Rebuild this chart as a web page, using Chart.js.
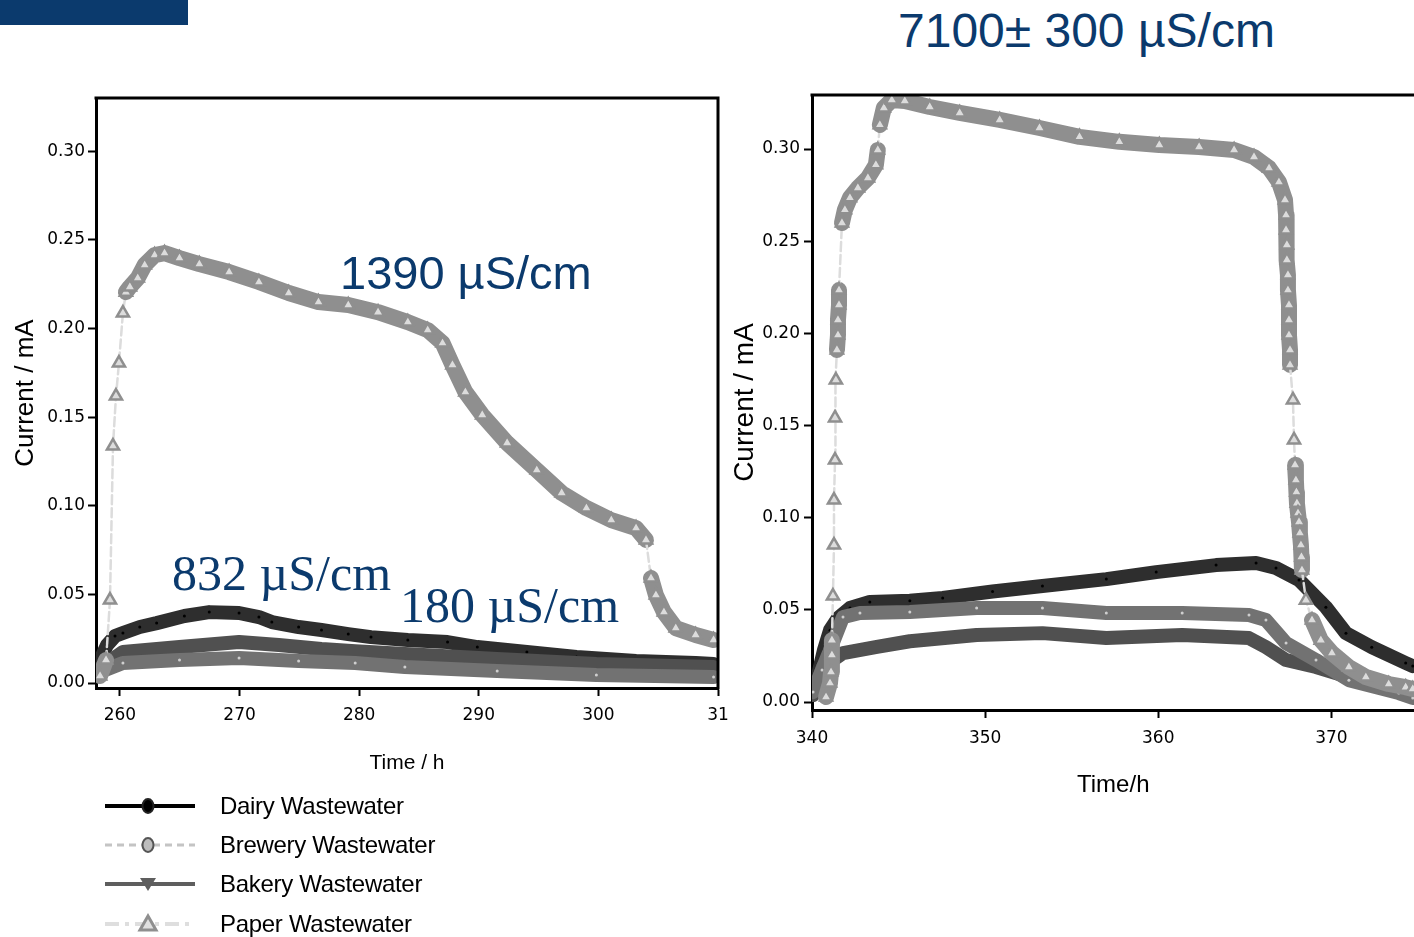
<!DOCTYPE html>
<html lang="en">
<head>
  <meta charset="UTF-8">
  <title>Current vs time — wastewater MFC</title>
  <script src="https://cdn.jsdelivr.net/npm/chart.js"></script>
  <style>
    body {
      margin: 0;
      background: #fff;
      width: 1414px;
      height: 937px;
      overflow: hidden;
      position: relative;
      font-family: 'Liberation Sans', Arial, sans-serif;
    }
    .bar { position: absolute; left: 0; top: 0; width: 188px; height: 25px; background: #0b3a6d; }
    .note { position: absolute; color: #0b3a6d; white-space: nowrap; line-height: 1; }
    .sans { font-family: 'Liberation Sans', Arial, sans-serif; font-size: 47px; }
    .serif { font-family: 'Liberation Serif', 'Times New Roman', serif; font-size: 50px; }
    #left-wrap { position: absolute; left: 0; top: 80px; width: 740px; height: 720px; }
    /* 10px wider than the window: Chart.js keeps ~10px free for the line width */
    #right-wrap { position: absolute; left: 720px; top: 80px; width: 704px; height: 740px; }
    .legend { position: absolute; left: 105px; top: 786px; }
    .legend .row { display: flex; align-items: center; height: 39.3px; }
    .legend svg { width: 92px; height: 22px; margin-right: 23px; }
    .legend span { font-size: 24px; color: #000; letter-spacing: -0.3px; }
  </style>
</head>
<body>
  <div class="bar"></div>
  <div class="note sans" style="left:898px; top:7px; font-size:48px;">7100± 300 µS/cm</div>

  <div id="left-wrap"><canvas id="chart-left"></canvas></div>
  <div id="right-wrap"><canvas id="chart-right"></canvas></div>

  <div class="note sans" style="left:340px; top:249px;">1390 µS/cm</div>
  <div class="note serif" style="left:172px; top:548px;">832 µS/cm</div>
  <div class="note serif" style="left:400px; top:580px;">180 µS/cm</div>

  <div class="legend" id="legend"></div>

  <script>
    // series names (legend order)
    const seriesNames = ['Dairy Wastewater', 'Brewery Wastewater', 'Bakery Wastewater', 'Paper Wastewater'];

    // axis ticks
    const yTicks = [0, 0.05, 0.10, 0.15, 0.20, 0.25, 0.30];
    const leftXTicks = [260, 270, 280, 290, 300, 310];
    const leftXLabels = ['260', '270', '280', '290', '300', '31'];
    const rightXTicks = [340, 350, 360, 370];
    const rightXLabels = ['340', '350', '360', '370'];

    // left panel: [time / h, current / mA]
    const leftDairy = [[258.34,0.013],[258.92,0.0214],[259.59,0.0265],[260.25,0.0282],[261.66,0.0316],[263.07,0.0338],
      [265.39,0.0378],[267.47,0.04],[269.96,0.0395],[271.62,0.0372],[272.70,0.0344],[274.94,0.0316],[276.85,0.0299],
      [279.09,0.0276],[280.99,0.0259],[284.07,0.0243],[287.39,0.0231],[289.88,0.0203],[294.02,0.0175],[298.17,0.0147],
      [303.15,0.0124],[308.13,0.0113],[309.63,0.0107]];
    const leftBrewery = [[258.34,0.0062],[260.25,0.0113],[264.98,0.013],[269.96,0.0141],[274.94,0.0124],[279.67,0.0113],
      [283.82,0.009],[291.54,0.0068],[299.83,0.0045],[309.63,0.0034]];
    const leftBakery = [[258.34,0.0085],[260.25,0.0175],[264.98,0.0203],[269.96,0.0231],[273.28,0.0214],[276.85,0.0192],
      [279.67,0.018],[283.82,0.0164],[291.54,0.0135],[299.83,0.0107],[309.63,0.009]];
    const leftPaper = [[258.34,0.004],[258.84,0.013],[259.17,0.0468],[259.42,0.1337],[259.67,0.1619],[259.92,0.1805],
      [260.25,0.2087],[260.50,0.2205],[260.83,0.2234],[261.49,0.2284],[262.07,0.2358],[262.90,0.2414],[263.73,0.2425],
      [264.98,0.2397],[266.64,0.2363],[269.13,0.2318],[271.62,0.2262],[274.11,0.22],[276.60,0.2149],[279.09,0.2132],
      [281.58,0.2092],[284.07,0.2036],[285.73,0.1991],[286.97,0.1918],[287.80,0.1794],[288.88,0.1641],[290.29,0.1512],
      [292.37,0.1354],[294.85,0.1201],[296.93,0.1072],[299.00,0.0987],[301.08,0.0919],[303.15,0.0874],[303.98,0.0807],
      [304.40,0.0592],[304.81,0.0496],[305.48,0.04],[306.47,0.031],[308.13,0.0271],[309.63,0.0243]];

    // right panel (7100 µS/cm)
    const rightDairy = [[340.06,0.0076],[340.35,0.0147],[340.69,0.0282],[341.04,0.039],[341.50,0.0456],[342.19,0.051],
      [343.34,0.0543],[345.65,0.055],[347.55,0.0565],[350.43,0.060],[353.31,0.063],[357.00,0.0667],[359.88,0.0705],
      [363.34,0.0743],[365.65,0.0754],[366.80,0.0727],[368.13,0.0662],[369.68,0.0515],[370.84,0.0374],[372.33,0.0298],
      [374.29,0.0212],[374.70,0.0195]];
    const rightBrewery = [[340.06,0.0054],[340.58,0.0174],[341.04,0.0282],[341.79,0.0461],[342.77,0.0483],[345.65,0.0488],
      [349.51,0.051],[353.31,0.051],[357.00,0.0483],[361.38,0.0483],[365.24,0.0472],[366.22,0.0445],[367.38,0.032],
      [369.11,0.0228],[371.01,0.0119],[373.89,0.0049],[374.70,0.0022]];
    const rightBakery = [[340.06,0.0038],[340.63,0.019],[341.79,0.0266],[343.75,0.030],[345.65,0.033],[349.51,0.0364],
      [353.31,0.0374],[357.00,0.0347],[361.38,0.0364],[365.24,0.0347],[366.22,0.0298],[367.38,0.0228],[369.11,0.019],
      [371.01,0.0136],[374.70,0.0065]];
    const rightPaper = [[340.81,0.0027],[341.04,0.0103],[341.10,0.0163],[341.15,0.0255],[341.15,0.0336],[341.21,0.0575],
      [341.27,0.0852],[341.27,0.1096],[341.33,0.1313],[341.33,0.1541],[341.38,0.1747],[341.44,0.191],[341.50,0.1991],
      [341.50,0.2073],[341.56,0.2154],[341.56,0.2235],[341.73,0.2599],[341.90,0.267],[342.19,0.2735],[342.65,0.2789],
      [343.23,0.2843],[343.69,0.2914],[343.80,0.2995],[343.92,0.3131],[344.15,0.3223],[344.61,0.3266],[345.36,0.3261],
      [346.80,0.3228],[348.53,0.3196],[350.84,0.3158],[353.14,0.3114],[355.45,0.3066],[357.75,0.3039],[360.06,0.3022],
      [362.36,0.3011],[364.38,0.2995],[365.53,0.2957],[366.40,0.2897],[366.97,0.2821],[367.32,0.2724],[367.38,0.2642],
      [367.38,0.2561],[367.43,0.248],[367.43,0.2398],[367.49,0.2317],[367.49,0.2235],[367.55,0.2154],[367.55,0.2073],
      [367.55,0.1991],[367.61,0.191],[367.61,0.1829],[367.78,0.1639],[367.84,0.1422],[367.90,0.1286],[367.95,0.1204],
      [367.98,0.1139],[368.01,0.1079],[368.07,0.1025],[368.13,0.0977],[368.18,0.0917],[368.24,0.0852],[368.27,0.0787],
      [368.30,0.0716],[368.53,0.0553],[368.88,0.0445],[369.39,0.0336],[370.03,0.0266],[371.01,0.019],[371.99,0.0136],
      [373.31,0.0098],[374.29,0.0081],[374.70,0.0071]];

    // look of each series: thick band in the plot, small marker on top
    const looks = [
      { color: '#2e2e2e', point: 'circle',   radius: 1.5, fill: '#000',    edge: '#000',    band: 14, order: 3 },
      { color: '#727272', point: 'circle',   radius: 1.5, fill: '#cfcfcf', edge: '#cfcfcf', band: 14, order: 1 },
      { color: '#505050', point: 'triangle', radius: 0,   fill: '#505050', edge: '#505050', band: 14, order: 2 },
      { color: '#8f8f8f', point: 'triangle', radius: 7,   fill: '#dcdcdc', edge: '#8f8f8f', band: 16, order: 0 }
    ];

    // steep jumps in the paper curve are drawn as a thin dashed line between markers
    const steep = c => {
      const dx = Math.abs(c.p1.x - c.p0.x), dy = Math.abs(c.p1.y - c.p0.y);
      return dy > 18 && dy > dx * 3;
    };

    const makeDataset = (pts, i) => {
      const l = looks[i];
      const ds = {
        label: seriesNames[i],
        data: pts.map(([x, y]) => ({ x, y })),
        borderColor: l.color,
        borderWidth: l.band,
        borderJoinStyle: 'round',
        borderCapStyle: 'round',
        pointStyle: l.point,
        pointRadius: l.radius,
        pointBackgroundColor: l.fill,
        pointBorderColor: l.edge,
        pointBorderWidth: i === 3 ? 2.5 : 0,
        order: l.order
      };
      if (i === 3) {
        ds.segment = {
          borderColor: c => steep(c) ? '#dcdcdc' : undefined,
          borderWidth: c => steep(c) ? 2.5 : undefined,
          borderDash: c => steep(c) ? [9, 4] : undefined
        };
      }
      return ds;
    };

    // box lines that Chart.js has no axis for
    const framePlugin = {
      id: 'frame',
      afterDatasetsDraw(chart, args, opts) {
        const { ctx, chartArea: a } = chart;
        ctx.save();
        ctx.strokeStyle = '#000';
        ctx.lineWidth = 3;
        ctx.beginPath();
        ctx.moveTo(a.left - 1.5, a.top);
        ctx.lineTo(a.right, a.top);
        if (opts.right) ctx.lineTo(a.right, a.bottom + 1.5);
        ctx.stroke();
        ctx.restore();
      }
    };

    const tickFont = { family: "'DejaVu Sans', sans-serif", size: 17 };
    const titleFont = size => ({ family: "'Liberation Sans', Arial, sans-serif", size });

    const buildPanel = (id, series, o) => new Chart(document.getElementById(id), {
      type: 'line',
      data: { datasets: series.map(makeDataset) },
      options: {
        responsive: true,
        maintainAspectRatio: false,
        animation: false,
        layout: { padding: o.pad },
        plugins: { legend: { display: false }, tooltip: { enabled: false }, frame: { right: o.frameRight } },
        scales: {
          x: {
            type: 'linear', min: o.xMin, max: o.xMax,
            afterBuildTicks: s => { s.ticks = o.xTicks.map(v => ({ value: v })); },
            afterFit: s => { s.height = o.xAxisH; },
            ticks: { font: tickFont, color: '#000', padding: o.xTickPad, maxRotation: 0, autoSkip: false,
                     callback: (v, i) => o.xLabels[i] },
            grid: { drawOnChartArea: false, tickLength: 8, tickWidth: 2, tickColor: '#000' },
            border: { display: true, color: '#000', width: 3 },
            title: { display: true, text: o.xTitle, color: '#000', font: titleFont(o.xTitleSize),
                     padding: { top: 0, bottom: o.xTitlePad } }
          },
          y: {
            min: o.yMin, max: o.yMax,
            afterBuildTicks: s => { s.ticks = yTicks.map(v => ({ value: v })); },
            afterFit: s => { s.width = o.yAxisW; },
            ticks: { font: tickFont, color: '#000', padding: o.yTickPad, callback: v => v.toFixed(2) },
            grid: { drawOnChartArea: false, tickLength: 8, tickWidth: 2, tickColor: '#000' },
            border: { display: true, color: '#000', width: 3 },
            title: { display: true, text: 'Current / mA', color: '#000', font: titleFont(o.yTitleSize),
                     padding: { top: o.yTitlePad, bottom: 0 } }
          }
        }
      },
      plugins: [framePlugin]
    });

    buildPanel('chart-left', [leftDairy, leftBrewery, leftBakery, leftPaper], {
      xMin: 258, xMax: 310, yMin: -0.0028, yMax: 0.33,
      xTicks: leftXTicks, xLabels: leftXLabels,
      pad: { left: 0, top: 18, right: 22, bottom: 0 },
      xAxisH: 112, yAxisW: 96, xTickPad: 9, yTickPad: 3,
      xTitle: 'Time / h', xTitleSize: 21, xTitlePad: 24,
      yTitleSize: 26, yTitlePad: 10, frameRight: true
    });

    buildPanel('chart-right', [rightDairy, rightBrewery, rightBakery, rightPaper], {
      xMin: 340, xMax: 374.8, yMin: -0.0043, yMax: 0.3293,
      xTicks: rightXTicks, xLabels: rightXLabels,
      pad: { left: 0, top: 15, right: 0, bottom: 0 },
      xAxisH: 110, yAxisW: 92, xTickPad: 10, yTickPad: 4,
      xTitle: 'Time/h', xTitleSize: 24, xTitlePad: 20,
      yTitleSize: 28, yTitlePad: 8, frameRight: false
    });

    // legend: line sample with marker, then the name
    const legendLooks = [
      { stroke: '#000',    width: 4, dash: '',         marker: 'circle', fill: '#000',    edge: '#222' },
      { stroke: '#c4c4c4', width: 3, dash: '7 5',      marker: 'circle', fill: '#bdbdbd', edge: '#555' },
      { stroke: '#5e5e5e', width: 4, dash: '',         marker: 'down',   fill: '#5e5e5e', edge: '#5e5e5e' },
      { stroke: '#dedede', width: 4, dash: '14 6 4 6', marker: 'up',     fill: '#e0e0e0', edge: '#8f8f8f' }
    ];
    const markerSvg = m => {
      if (m.marker === 'circle')
        return `<ellipse cx="43" cy="11" rx="5.5" ry="7" fill="${m.fill}" stroke="${m.edge}" stroke-width="2"/>`;
      if (m.marker === 'down')
        return `<polygon points="35,5 51,5 43,18" fill="${m.fill}"/>`;
      return `<polygon points="43,3 51,17 35,17" fill="${m.fill}" stroke="${m.edge}" stroke-width="3"/>`;
    };
    const legend = document.getElementById('legend');
    seriesNames.forEach((name, i) => {
      const m = legendLooks[i];
      legend.insertAdjacentHTML('beforeend',
        `<div class="row"><svg viewBox="0 0 92 22">
           <line x1="0" y1="11" x2="90" y2="11" stroke="${m.stroke}" stroke-width="${m.width}" stroke-dasharray="${m.dash}"/>
           ${markerSvg(m)}
         </svg><span>${name}</span></div>`);
    });
  </script>
</body>
</html>
